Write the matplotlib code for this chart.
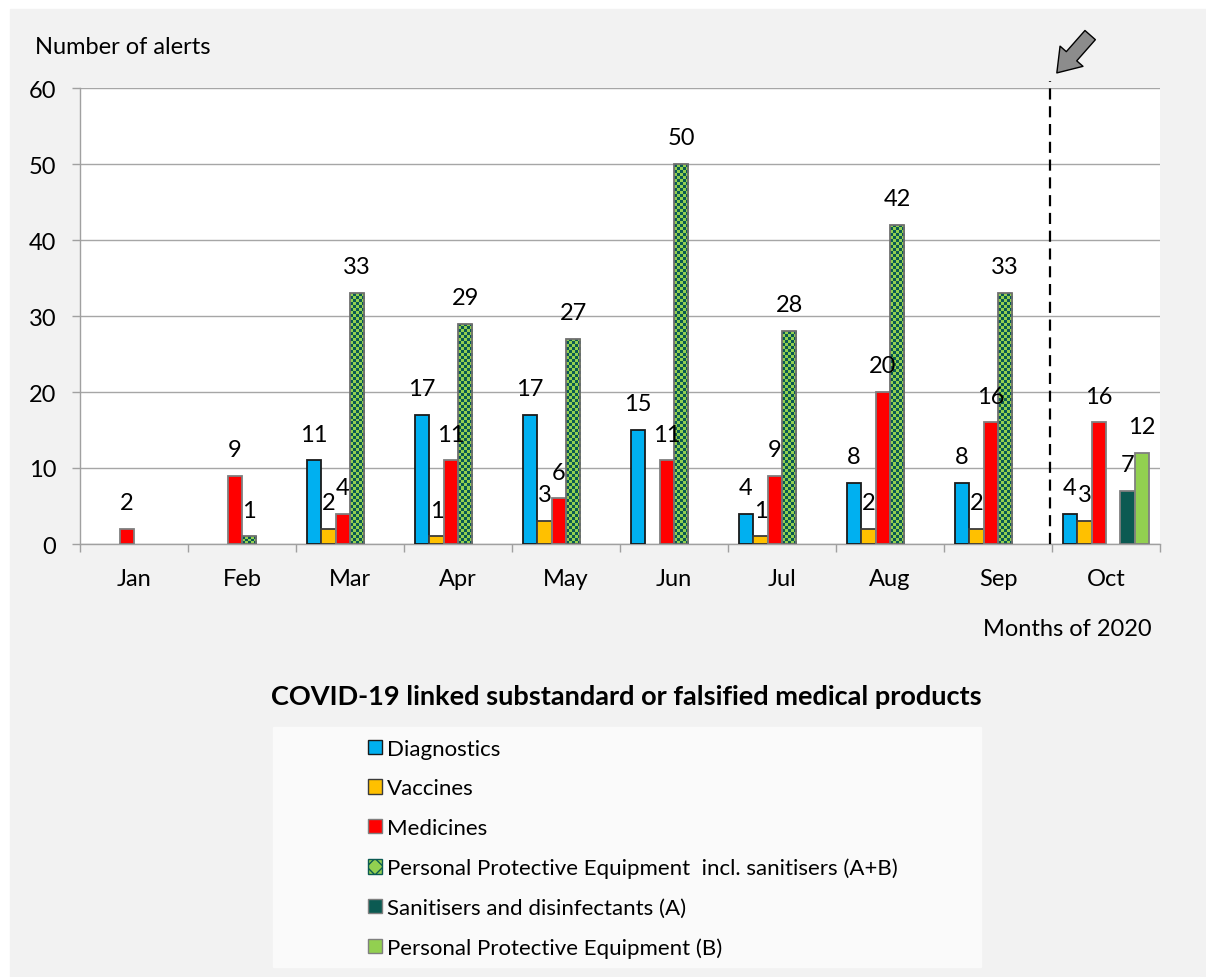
import numpy as np
import matplotlib.pyplot as plt
from matplotlib.patches import Rectangle, Patch
from matplotlib.colors import ListedColormap

plt.rcParams['font.family'] = ['Lato', 'DejaVu Sans']

months = ['Jan', 'Feb', 'Mar', 'Apr', 'May', 'Jun', 'Jul', 'Aug', 'Sep', 'Oct']
diagnostics = [0, 0, 11, 17, 17, 15, 4, 8, 8, 4]
vaccines = [0, 0, 2, 1, 3, 0, 1, 2, 2, 3]
medicines = [2, 9, 4, 11, 6, 11, 9, 20, 16, 16]
ppe_all = [0, 1, 33, 29, 27, 50, 28, 42, 33, 0]
sanitisers = [0, 0, 0, 0, 0, 0, 0, 0, 0, 7]
ppe_b = [0, 0, 0, 0, 0, 0, 0, 0, 0, 12]

names = ['Diagnostics', 'Vaccines', 'Medicines',
         'Personal Protective Equipment  incl. sanitisers (A+B)',
         'Sanitisers and disinfectants (A)',
         'Personal Protective Equipment (B)']
series = [diagnostics, vaccines, medicines, ppe_all, sanitisers, ppe_b]
faces = ['#00b0f0', '#ffc000', '#ff0000', 'none', '#0b5a52', '#92d050']
edges = ['#1a1a1a', '#3a3a3a', '#7f7f7f', '#707070', '#7f7f7f', '#7f7f7f']
dark, light = '#0b5a52', '#92d050'

W, H = 1206, 978
fig = plt.figure(figsize=(W / 100, H / 100), dpi=100)
fig.patches.append(Rectangle((10 / W, 0), 1, 968 / H, transform=fig.transFigure,
                             color='#f2f2f2', zorder=-10))
ax = fig.add_axes([80 / W, 433 / H, 1080 / W, 456 / H])
ax.set_facecolor('white')

x = np.arange(len(months))
w = 1 / 7.5
fs = 17

for i, (vals, fc, ec) in enumerate(zip(series, faces, edges)):
    vals = np.array(vals)
    keep = vals > 0
    pos = (x + (i - 2.5) * w)[keep]
    vals = vals[keep]
    bars = ax.bar(pos, vals, w, color=fc, edgecolor=ec, linewidth=1.3, zorder=3)
    for p, v, b in zip(pos, vals, bars):
        if i == 3:
            # checker pattern clipped to the bar
            ncol = 5
            nrow = max(1, int(round(v * 7.6 / 3)))
            chk = np.indices((nrow, ncol)).sum(axis=0) % 2
            im = ax.imshow(chk, cmap=ListedColormap([dark, light]), aspect='auto',
                           interpolation='nearest', origin='lower',
                           extent=(p - w / 2, p + w / 2, 0, v), zorder=2.9)
            im.set_clip_path(b)
        ax.annotate(str(v), (p, v), xytext=(0, 19), textcoords='offset points',
                    ha='center', va='center', fontsize=fs, zorder=5)

ax.set_xlim(-0.5, len(months) - 0.5)
ax.set_ylim(0, 60)
ax.set_yticks(range(0, 61, 10))
ax.set_xticks(x)
ax.set_xticklabels(months)
ax.set_xticks(np.arange(-0.5, len(months)), minor=True)
ax.tick_params(axis='x', which='major', length=0, pad=17, labelsize=fs)
ax.tick_params(axis='x', which='minor', length=6, color='#a0a0a0', width=1)
ax.tick_params(axis='y', length=6, color='#a0a0a0', width=1, pad=11, labelsize=fs)
ax.grid(axis='y', color='#a6a6a6', linewidth=1, zorder=0)
for s in ['top', 'right']:
    ax.spines[s].set_visible(False)
for s in ['left', 'bottom']:
    ax.spines[s].set_color('#a0a0a0')
    ax.spines[s].set_linewidth(1)

# dashed separator before October
ax.plot([8.48, 8.48], [0, 60.9], color='black', lw=1.6, dashes=(5, 3),
        clip_on=False, zorder=4)
ax.annotate('', xy=(1055, H - 76), xytext=(1092, H - 34),
            xycoords='figure pixels', textcoords='figure pixels',
            arrowprops=dict(arrowstyle='simple,head_width=1.1,head_length=0.8,tail_width=0.5',
                            mutation_scale=20, fc='#8c8c8c', ec='black', lw=1))

fig.text(35 / W, 1 - 48 / H, 'Number of alerts', fontsize=fs, ha='left', va='center')
fig.text(1152 / W, 1 - 629 / H, 'Months of 2020', fontsize=fs, ha='right', va='center')
fig.text(626 / W, 1 - 697 / H, 'COVID-19 linked substandard or falsified medical products',
         fontsize=19.5, fontweight='bold', ha='center', va='center')

fig.patches.append(Rectangle((273 / W, 10 / H), 708 / W, 240 / H, transform=fig.transFigure,
                             color='#fafafa', zorder=-5))
handles = []
for i in range(6):
    if i == 3:
        handles.append(Patch(facecolor=light, edgecolor=dark, hatch='xx', lw=1))
    else:
        handles.append(Patch(facecolor=faces[i], edgecolor=edges[i], lw=1))
fig.legend(handles, names, loc='upper left', bbox_to_anchor=(359 / W, 1 - 731 / H),
           frameon=False, fontsize=16, handlelength=0.63, handleheight=0.63,
           handletextpad=0.22, labelspacing=0.88, borderaxespad=0)

fig.savefig('out.png', dpi=100, facecolor='white')
